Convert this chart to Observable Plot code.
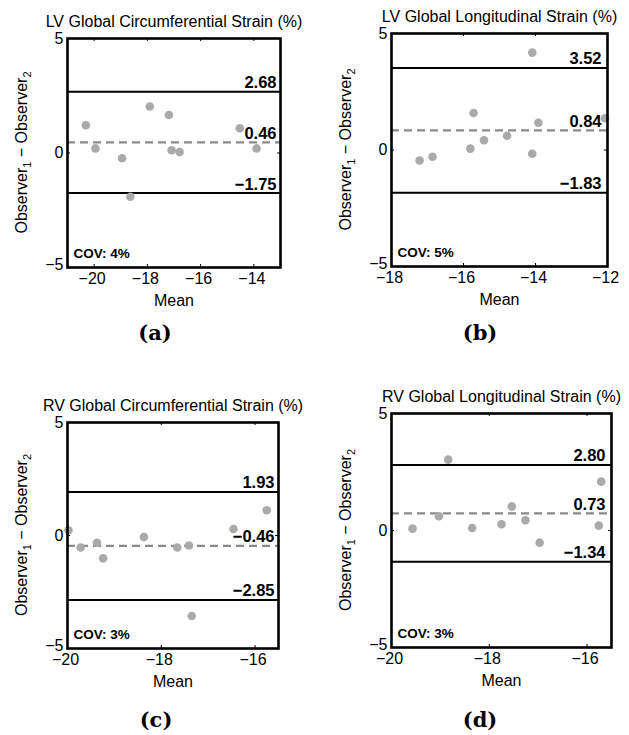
<!DOCTYPE html>
<html>
<head>
<meta charset="utf-8">
<script src="https://cdn.jsdelivr.net/npm/d3@7"></script>
<script src="https://cdn.jsdelivr.net/npm/@observablehq/plot@0.6"></script>
<style>
  html, body { margin: 0; padding: 0; background: #fff; }
  #root { position: relative; width: 629px; height: 735px; background: #fff; overflow: hidden; }
  .panel { position: absolute; }
  .sub { position: absolute; width: 80px; margin-left: -40px; text-align: center;
         font-family: "DejaVu Serif", "Liberation Serif", serif; font-weight: bold;
         font-size: 21px; line-height: 21px; color: #000; }
</style>
</head>
<body>
<div id="root"></div>
<script>
// ---- data ----
const panelTitles = [
  "LV Global Circumferential Strain (%)",
  "LV Global Longitudinal Strain (%)",
  "RV Global Circumferential Strain (%)",
  "RV Global Longitudinal Strain (%)"
];
const subLabels = ["(a)", "(b)", "(c)", "(d)"];

const meanA = [-20.31, -19.95, -18.95, -18.64, -17.91, -17.19, -17.09, -16.79, -14.53, -13.90];
const diffA = [1.21, 0.20, -0.23, -1.91, 2.03, 1.66, 0.12, 0.04, 1.08, 0.20];

const meanB = [-17.22, -16.86, -15.81, -15.72, -15.43, -14.79, -14.09, -14.09, -13.92, -12.07];
const diffB = [-0.45, -0.29, 0.06, 1.59, 0.42, 0.61, 4.18, -0.16, 1.17, 1.36];

const meanC = [-19.98, -19.72, -19.37, -19.24, -18.37, -17.66, -17.41, -17.35, -16.46, -15.75];
const diffC = [0.23, -0.53, -0.32, -1.01, -0.07, -0.53, -0.44, -3.56, 0.29, 1.12];

const meanD = [-19.57, -19.03, -18.84, -18.35, -17.75, -17.54, -17.26, -16.97, -15.76, -15.71];
const diffD = [0.08, 0.61, 3.03, 0.11, 0.27, 1.03, 0.44, -0.52, 0.21, 2.09];

const biasValues  = [0.46, 0.84, -0.46, 0.73];
const upperLimits = [2.68, 3.52, 1.93, 2.80];
const lowerLimits = [-1.75, -1.83, -2.85, -1.34];
const covLabels = ["COV: 4%", "COV: 5%", "COV: 3%", "COV: 3%"];

const xDomains = [[-21, -13], [-18, -12], [-20, -15.5], [-20, -15.5]];
const xTicks = [[-20, -18, -16, -14], [-18, -16, -14, -12], [-20, -18, -16], [-20, -18, -16]];
const yDomain = [-5, 5];
const yTicks = [-5, 0, 5];
const xLabel = "Mean";

const means = [meanA, meanB, meanC, meanD];
const diffs = [diffA, diffB, diffC, diffD];

// ---- layout ----
const layout = [
  {left: 0,   top: 0,   width: 314, height: 300, ml: 67, mr: 34, mt: 38, mb: 33, labelDx: -4, subX: 155, subY: 322},
  {left: 314, top: 0,   width: 315, height: 300, ml: 77, mr: 22, mt: 33, mb: 34, labelDx: -6, subX: 480, subY: 322},
  {left: 0,   top: 360, width: 314, height: 340, ml: 67, mr: 36, mt: 62, mb: 52, labelDx: -4, subX: 156, subY: 709},
  {left: 314, top: 360, width: 315, height: 340, ml: 77, mr: 18, mt: 53, mb: 53, labelDx: -6, subX: 480, subY: 709}
];

const FONT = "'Liberation Sans', Arial, Helvetica, sans-serif";
const fmt2 = d3.format(".2f");
const fmtTick = d3.format("d");
const root = document.getElementById("root");

layout.forEach((L, i) => {
  const fw = L.width - L.ml - L.mr;
  const fh = L.height - L.mt - L.mb;
  const data = means[i].map((m, j) => ({m, d: diffs[i][j]}));
  const tickLen = 3;
  const yLow = yTicks.filter(v => v === yDomain[0]);
  const yRest = yTicks.filter(v => v !== yDomain[0]);

  const chart = Plot.plot({
    width: L.width,
    height: L.height,
    marginLeft: L.ml, marginRight: L.mr, marginTop: L.mt, marginBottom: L.mb,
    x: {domain: xDomains[i], label: null},
    y: {domain: yDomain, label: null},
    style: {fontFamily: FONT, fontSize: "16px", background: "transparent", color: "#000", overflow: "visible"},
    marks: [
      Plot.ruleY([upperLimits[i], lowerLimits[i]], {y: d => d, stroke: "#000", strokeWidth: 2}),
      Plot.ruleY([biasValues[i]], {y: d => d, stroke: "#8a8a8a", strokeWidth: 2.2, strokeDasharray: "8,5"}),
      Plot.dot(data, {x: "m", y: "d", r: 4.3, fill: "#aaaaaa", stroke: null}),
      Plot.text([upperLimits[i], biasValues[i], lowerLimits[i]], {
        y: d => d, frameAnchor: "right", text: d => fmt2(d), textAnchor: "end",
        lineAnchor: "bottom", dx: L.labelDx, dy: -3.5, fontWeight: "bold", fontSize: 16.5, fill: "#000"
      }),
      Plot.text([covLabels[i]], {
        frameAnchor: "bottom-left", text: d => d, textAnchor: "start", lineAnchor: "bottom",
        dx: 6, dy: -9.5, fontWeight: "bold", fontSize: 13.5, fill: "#000"
      }),
      Plot.text([panelTitles[i]], {
        frameAnchor: "top", text: d => d, lineAnchor: "bottom", dy: -12, fontSize: 16, fill: "#000"
      }),
      Plot.text([xLabel], {
        frameAnchor: "bottom", text: d => d, lineAnchor: "bottom", dy: 38, fontSize: 16, fill: "#000"
      }),
      Plot.axisX(xTicks[i], {tickSize: 0, tickPadding: 5, dx: -2, fontSize: 16, tickFormat: d => fmtTick(d), label: null}),
      Plot.axisY(yRest, {tickSize: 0, tickPadding: 4, fontSize: 16, tickFormat: d => fmtTick(d), label: null}),
      Plot.axisY(yLow, {tickSize: 0, tickPadding: 4, dy: -3, fontSize: 16, tickFormat: d => fmtTick(d), label: null}),
      Plot.tickX(xTicks[i], {x: d => d, insetTop: fh - tickLen, stroke: "#000", strokeWidth: 1}),
      Plot.tickX(xTicks[i], {x: d => d, insetBottom: fh - tickLen, stroke: "#000", strokeWidth: 1}),
      Plot.tickY(yTicks, {y: d => d, insetRight: fw - tickLen, stroke: "#000", strokeWidth: 1}),
      Plot.tickY(yTicks, {y: d => d, insetLeft: fw - tickLen, stroke: "#000", strokeWidth: 1}),
      Plot.frame({stroke: "#000", strokeWidth: 2.6})
    ]
  });

  // y-axis label with subscripts
  const svg = d3.select(chart);
  const t = svg.append("text")
    .attr("transform", `translate(${L.ml - 40},${L.mt + fh / 2}) rotate(-90)`)
    .attr("text-anchor", "middle")
    .attr("font-family", FONT)
    .attr("font-size", 16)
    .attr("fill", "#000");
  t.append("tspan").text("Observer");
  t.append("tspan").attr("font-size", 11).attr("dy", 4).text("1");
  t.append("tspan").attr("dy", -4).text(" \u2212 Observer");
  t.append("tspan").attr("font-size", 11).attr("dy", 4).text("2");

  const div = document.createElement("div");
  div.className = "panel";
  div.style.left = L.left + "px";
  div.style.top = L.top + "px";
  div.appendChild(chart);
  root.appendChild(div);

  const s = document.createElement("div");
  s.className = "sub";
  s.style.left = L.subX + "px";
  s.style.top = L.subY + "px";
  s.textContent = subLabels[i];
  root.appendChild(s);
});
</script>
</body>
</html>
